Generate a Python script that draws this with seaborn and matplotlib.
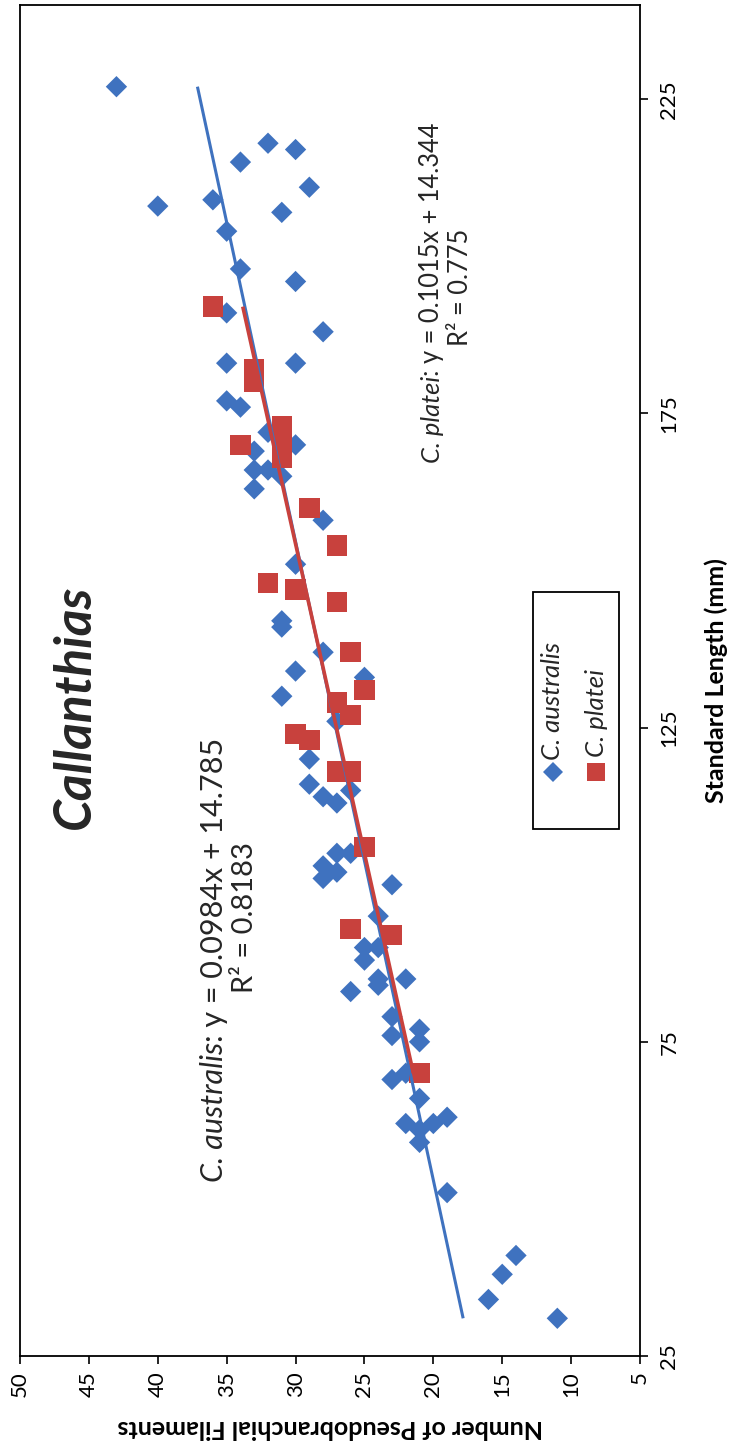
import numpy as np
import matplotlib
matplotlib.use("Agg")
import matplotlib.pyplot as plt
from matplotlib.lines import Line2D
from matplotlib.patches import Rectangle
import seaborn as sns

# Callanthias australis: standard length (mm) and pseudobranchial filament counts
australis_sl = [227, 218, 217, 215, 211, 209, 208, 207, 204, 198, 196, 191, 188,
                183, 183, 177, 176, 172, 170, 169, 166, 166, 165, 163, 158, 151,
                142, 141, 137, 134, 133, 130, 126, 120, 116, 115, 114, 113, 105,
                105, 103, 102, 101, 100, 95, 90, 90, 88, 85, 84, 85, 83, 79, 77,
                76, 75, 70, 69, 66, 62, 62, 63, 61, 59, 51, 41, 38, 34, 31]
australis_filaments = [43, 32, 30, 34, 29, 36, 40, 31, 35, 34, 30, 35, 28,
                       35, 30, 35, 34, 32, 30, 33, 33, 32, 31, 33, 28, 30,
                       31, 31, 28, 30, 25, 31, 27, 29, 29, 26, 28, 27, 27,
                       26, 28, 27, 28, 23, 24, 25, 24, 25, 24, 24, 22, 26, 23, 21,
                       23, 21, 22, 23, 21, 22, 20, 19, 21, 21, 19, 14, 15, 16, 11]

# Callanthias platei
platei_sl = [192, 182, 180, 173, 170.5, 168, 170, 160, 154, 148, 147, 145, 137,
             131, 129, 127, 124, 123, 118, 118, 106, 93, 92, 70]
platei_filaments = [36, 33, 33, 31, 31, 31, 34, 29, 27, 32, 30, 27, 26,
                    25, 27, 26, 30, 29, 27, 26, 25, 26, 23, 21]

species = ["C. australis", "C. platei"]
slopes = [0.0984, 0.1015]
intercepts = [14.785, 14.344]
r_squared = ["0.8183", "0.775"]

filament_ticks = [50, 45, 40, 35, 30, 25, 20, 15, 10, 5]
sl_ticks = [25, 75, 125, 175, 225]

BLUE = "#3F72BF"
RED = "#C8413D"

sns.set_theme(style="white")
plt.rcParams["font.family"] = ["Lato", "DejaVu Sans"]

W, H = 732, 1449
fig = plt.figure(figsize=(W / 100, H / 100), dpi=100)
fig.patch.set_facecolor("white")


def fx(px):
    return px / W


def fy(py):
    return 1 - py / H


# The page is laid out sideways: filament count runs along the bottom,
# standard length runs up the right-hand side.
ax = fig.add_axes([fx(20), fy(1356), fx(640) - fx(20), fy(5) - fy(1356)])

sns.scatterplot(x=australis_filaments, y=australis_sl, marker="D", s=118,
                color=BLUE, edgecolor="none", linewidth=0, ax=ax, zorder=3)
sns.scatterplot(x=platei_filaments, y=platei_sl, marker="s", s=215,
                color=RED, edgecolor="none", linewidth=0, ax=ax, zorder=4)

# Linear trendlines across each species' size range
for sl, slope, icpt, col, lw, z in [(australis_sl, slopes[0], intercepts[0], BLUE, 2.2, 5),
                                    (platei_sl, slopes[1], intercepts[1], RED, 2.6, 6)]:
    xs = np.array([min(sl), max(sl)], dtype=float)
    ax.plot(slope * xs + icpt, xs, color=col, lw=lw, zorder=z, solid_capstyle="butt")

ax.set_xlim(50, 5)
ax.set_ylim(25, 240)
ax.set_xticks(filament_ticks)
ax.set_yticks(sl_ticks)
ax.yaxis.tick_right()
ax.yaxis.set_label_position("right")

for side in ["left", "right", "top", "bottom"]:
    ax.spines[side].set_visible(True)
    ax.spines[side].set_color("black")
    ax.spines[side].set_linewidth(1.3)

ax.tick_params(axis="x", direction="out", length=6, width=1.2, color="black",
               bottom=True, top=False, labelsize=16, labelcolor="black", pad=5)
ax.tick_params(axis="y", direction="out", length=6, width=1.2, color="black",
               right=True, left=False, labelsize=16, labelcolor="black", pad=8)
for lab in ax.get_xticklabels():
    lab.set_rotation(90)
    lab.set_ha("center")
    lab.set_va("top")
for lab in ax.get_yticklabels():
    lab.set_rotation(90)
    lab.set_ha("left")
    lab.set_va("center")

ax.set_xlabel("Number of Pseudobranchial Filaments", fontsize=18,
              fontweight="bold", rotation=180, color="black")
ax.xaxis.label.set_va("center")
ax.xaxis.set_label_coords(0.5, (1356 - 1428) / 1351)
ax.set_ylabel("Standard Length (mm)", fontsize=18, fontweight="bold",
              rotation=90, color="black")
ax.yaxis.label.set_va("center")
ax.yaxis.label.set_ha("center")
ax.yaxis.set_label_coords((716 - 20) / 620, 0.5)

# Genus heading
fig.text(fx(75), fy(707), "Callanthias", rotation=90, fontsize=37,
         fontweight="bold", fontstyle="italic", ha="center", va="center")


def equation(x_px, y_start_px, name, slope, icpt, r2, size, r2_size, r2_x_px, r2_y_px):
    """Sideways trendline label: italic species name followed by the fit."""
    head = fig.text(fx(x_px), fy(y_start_px), name, rotation=90, fontsize=size,
                    fontstyle="italic", ha="center", va="bottom")
    fig.add_artist(matplotlib.text.Annotation(
        ": y = %.4fx + %.3f" % (slope, icpt), xy=(0.5, 1.0), xycoords=head,
        rotation=90, fontsize=size, ha="center", va="bottom"))
    fig.text(fx(r2_x_px), fy(r2_y_px), "R² = " + r2, rotation=90, fontsize=r2_size,
             ha="center", va="center")


equation(214, 1182, species[0], slopes[0], intercepts[0], r_squared[0], 22, 21, 245, 918)
equation(432, 463, species[1], slopes[1], intercepts[1], r_squared[1], 18.4, 18.4, 461, 287)

# Legend box, laid out sideways to follow the page
fig.add_artist(Rectangle((fx(533), fy(829)), fx(619) - fx(533), fy(592) - fy(829),
                         transform=fig.transFigure, facecolor="white",
                         edgecolor="black", lw=1.3, zorder=7))
fig.add_artist(Line2D([fx(553)], [fy(772)], marker="D", markersize=10, color=BLUE,
                      markeredgewidth=0, linestyle="none",
                      transform=fig.transFigure, zorder=8))
fig.add_artist(Line2D([fx(596)], [fy(772)], marker="s", markersize=13, color=RED,
                      markeredgewidth=0, linestyle="none",
                      transform=fig.transFigure, zorder=8))
fig.text(fx(553), fy(760), species[0], rotation=90, fontsize=18.5,
         fontstyle="italic", ha="center", va="bottom", zorder=9)
fig.text(fx(596), fy(757), species[1], rotation=90, fontsize=18.5,
         fontstyle="italic", ha="center", va="bottom", zorder=9)

fig.savefig("out.png", dpi=100, facecolor="white")
